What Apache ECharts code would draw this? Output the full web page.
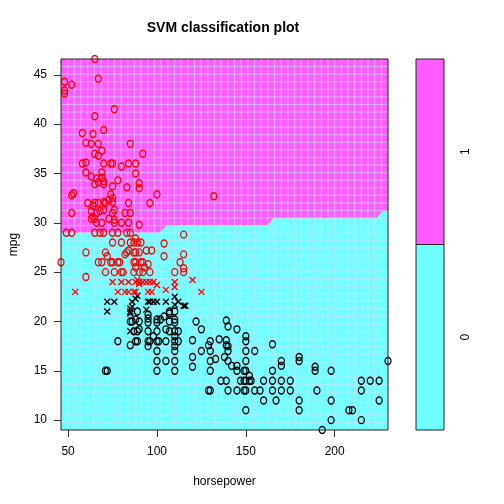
<!DOCTYPE html>
<html><head><meta charset="utf-8">
<script src="https://cdn.jsdelivr.net/npm/echarts@6/dist/echarts.min.js"></script>
<style>html,body{margin:0;padding:0;background:#fff}#c{width:504px;height:504px}</style>
</head><body><div id="c"></div><script>
// ---- data (horsepower, mpg) ----
const class1Obs = [[65,46.6],[48,44.3],[52,44.0],[67,44.6],[48,43.4],[48,43.1],[65,40.8],[76,41.5],[58,39.1],[64,39.0],[70,39.4],[60,38.1],[63,38.0],[67,38.0],[85,38.0],[69,37.3],[65,37.0],[67,36.8],[92,37.0],[58,36.0],[60,36.1],[70,36.0],[74,36.0],[75,36.0],[84,36.0],[88,36.0],[80,35.7],[88,35.0],
[60,35.1],[63,34.7],[66,34.5],[69,35.1],[69,34.6],[70,34.2],[70,33.9],[67,34.1],[65,33.9],[75,33.7],[78,34.3],[90,34.0],[100,32.9],[53,33.0],[52,32.8],[83,33.6],[90,33.5],
[74,32.9],[75,32.5],[73,32.3],[75,32.1],[70,32.1],[71,32.0],[67,32.0],[65,32.0],[64,31.7],[61,32.0],[84,32.0],[96,32.0],[132,32.7],
[52,31.0],[63,31.2],[66,31.0],[68,31.2],[70,31.3],[64,30.6],[65,30.4],[63,30.4],[76,31.3],[75,31.0],[82,31.0],[85,31.0],[73,30.4],[76,30.3],[80,30.0],[90,29.8],[66,30.0],[69,30.0],[84,30.0],[76,30.0],
[49,29.0],[52,29.0],[65,29.0],[68,29.0],[70,29.0],[75,29.0],[78,29.0],[83,29.0],[85,29.0],[115,28.8],
[75,28.0],[80,28.0],[85,28.0],[87,28.0],[89,28.0],[91,28.0],[104,27.9],[88,28.4],
[60,27.0],[71,27.0],[83,27.0],[84,27.2],[87,27.0],[88,27.0],[90,27.0],[94,27.2],[97,27.2],[115,26.8],[72,26.6],[82,26.8],[104,26.6],
[46,26.0],[67,26.0],[69,26.0],[74,26.0],[75,26.0],[78,26.0],[79,26.0],[87,26.0],[88,26.0],[91,26.0],[92,26.0],[95,25.8],[113,26.0],
[88,25.5],[93,25.5],[115,25.4],
[71,25.0],[76,25.0],[80,25.0],[81,25.0],[87,25.0],[90,25.0],[92,25.0],[96,25.0],[110,25.0],[115,25.0],[60,24.5]];

const class1SV = [[75,24.0],[80,24.0],[84,24.0],[88,24.0],[90,24.0],[92,24.0],[94,24.0],[96,24.0],[98,24.0],[100,23.7],[105,23.2],[110,24.0],[110,23.5],[120,24.2],[89,24.2],[90,23.8],[54,23.0],[78,23.0],[82,23.0],[84,23.0],[87,23.0],[88,23.0],[95,23.0],[97,23.0],[125,23.0]];

const class0SV = [[72,22.0],[76,22.0],[86,22.0],[88,22.3],[89,22.6],[95,22.0],[96,22.0],[98,22.0],[100,22.0],[105,22.0],[110,22.5],[110,21.7],[112,22.0],[115,21.6],[116,21.6],[72,21.0],[85,21.0],[85,21.3],[85,20.8],[94,21.2],[85,19.0],[86,21.5]];

const class0Obs = [[89,21.0],[85,20.0],[86,20.0],[88,20.2],[90,20.0],[95,20.3],[95,19.9],[100,19.9],[100,20.2],[102,20.2],[104,20.5],[107,20.8],[107,20.0],[105,19.2],[110,21.0],[110,20.2],[110,19.9],[95,20.7],[107,21.0],
[87,19.0],[89,19.0],[90,19.2],[95,19.0],[100,19.0],[98,18.5],
[78,18.0],[85,17.6],[88,18.0],[89,18.0],[95,18.0],[96,18.0],[100,18.0],[101,18.0],[105,18.0],[95,17.5],[100,17.0],[100,16.0],[100,15.0],[105,16.0],[71,15.0],[72,15.0],
[107,19.0],[110,19.0],[112,19.0],[110,18.5],[110,18.0],[112,18.0],[110,17.5],[110,17.0],[110,16.0],[110,15.0],[122,20.0],[125,19.2],
[120,18.1],[120,16.4],[120,15.4],[125,17.0],[130,17.0],[130,18.0],[129,17.6],[130,16.0],[130,15.0],[133,16.2],[129,13.0],[130,13.0],
[135,18.2],[139,18.1],[139,17.6],[140,17.5],[140,17.0],[138,16.4],[140,16.0],[142,15.5],[145,15.5],[145,15.0],[150,16.0],[149,15.0],[150,15.0],[152,14.5],
[139,20.1],[140,19.5],[145,19.2],[150,18.5],[150,18.0],[150,17.0],[155,17.0],[165,17.7],
[136,14.0],[139,14.0],[147,14.0],[149,14.0],[150,14.0],[152,14.0],[153,14.0],[160,14.0],[165,14.0],
[140,13.0],[145,13.0],[149,13.0],[150,13.0],[155,13.0],[158,13.0],[165,13.0],[170,13.0],
[160,12.0],[167,12.0],[150,11.0],
[170,16.0],[170,15.5],[180,16.4],[180,16.0],[189,15.4],[189,15.0],[198,15.0],[165,15.0],
[170,14.0],[175,14.0],[215,14.0],[220,14.0],[225,14.0],
[175,13.0],[190,13.0],[215,13.0],
[180,12.0],[198,12.0],[225,12.0],
[180,11.0],[208,11.0],[210,11.0],
[198,10.0],[215,10.0],[193,9.0],[230,16.0]];

// decision boundary between predicted classes (horsepower, mpg)
const boundaryHp  = [46, 101.5, 105.5, 162.5, 165.5, 223.6, 227.4, 230];
const boundaryMpg = [29.0, 29.0, 29.77, 29.77, 30.45, 30.45, 31.2, 31.2];

const hpRange = [46, 230];
const mpgRange = [9, 46.6];
const gridN = 50;                 // prediction grid resolution
const xTicks = [50, 100, 150, 200];
const yTicks = [10, 15, 20, 25, 30, 35, 40, 45];
const classLevels = ['0', '1'];

const COL0 = '#70FFFF', COL1 = '#FF5CFF';
const SEAM = 'rgba(205,222,255,0.62)';
const FONT = 'Liberation Sans, Arial, Helvetica, sans-serif';

const chart = echarts.init(document.getElementById('c'), null, {renderer: 'canvas'});

function bgRender(params, api) {
  const b = boundaryHp.map((h, i) => [h, boundaryMpg[i]]);
  const top = [[hpRange[0], mpgRange[1]], [hpRange[1], mpgRange[1]]].concat(b.slice().reverse());
  const bot = b.concat([[hpRange[1], mpgRange[0]], [hpRange[0], mpgRange[0]]]);
  const children = [
    {type: 'polygon', shape: {points: top.map(p => api.coord(p))}, style: {fill: COL1}},
    {type: 'polygon', shape: {points: bot.map(p => api.coord(p))}, style: {fill: COL0}}
  ];
  const dx = (hpRange[1] - hpRange[0]) / (gridN - 1);
  const dy = (mpgRange[1] - mpgRange[0]) / (gridN - 1);
  for (let i = 1; i < gridN - 1; i++) {
    const x = hpRange[0] + i * dx;
    const p1 = api.coord([x, mpgRange[0]]), p2 = api.coord([x, mpgRange[1]]);
    children.push({type: 'line', shape: {x1: p1[0], y1: p1[1], x2: p2[0], y2: p2[1]}, style: {stroke: SEAM, lineWidth: 1}});
    const y = mpgRange[0] + i * dy;
    const q1 = api.coord([hpRange[0], y]), q2 = api.coord([hpRange[1], y]);
    children.push({type: 'line', shape: {x1: q1[0], y1: q1[1], x2: q2[0], y2: q2[1]}, style: {stroke: SEAM, lineWidth: 1}});
  }
  return {type: 'group', children};
}

function boxRender(params, api) {
  const a = api.coord([hpRange[0], mpgRange[1]]), c = api.coord([hpRange[1], mpgRange[0]]);
  return {type: 'rect', shape: {x: a[0], y: a[1], width: c[0] - a[0], height: c[1] - a[1]}, style: {fill: 'none', stroke: '#222', lineWidth: 1}};
}

function keyRender(params, api) {
  const i = api.value(0);
  const a = api.coord([0, i + 1]), c = api.coord([1, i]);
  return {type: 'rect', shape: {x: a[0], y: a[1], width: c[0] - a[0], height: c[1] - a[1]}, style: {fill: i === 0 ? COL0 : COL1, stroke: '#222', lineWidth: 1}};
}

const xPath = 'path://M0,0L10,10M10,0L0,10';
function scatter(data, color, isSV) {
  return {
    type: 'scatter', xAxisIndex: 0, yAxisIndex: 0, data, z: 5,
    symbol: isSV ? xPath : 'circle',
    symbolSize: isSV ? [6, 6] : [6, 7],
    itemStyle: {color: isSV ? color : 'rgba(0,0,0,0)', borderColor: color, borderWidth: 1.35, opacity: 1},
    emphasis: {disabled: true}, silent: true, animation: false
  };
}

chart.setOption({
  animation: false,
  backgroundColor: '#fff',
  title: {text: 'SVM classification plot', left: 223, top: 21, textAlign: 'center', padding: 0,
    textStyle: {fontSize: 14, fontWeight: 'bold', fontFamily: FONT, color: '#000'}},
  grid: [
    {left: 59, top: 59, width: 329, height: 371, show: false},
    {left: 416, top: 59, width: 28, height: 371, show: false}
  ],
  xAxis: [
    {gridIndex: 0, type: 'value', min: hpRange[0], max: hpRange[1],
      name: 'horsepower', nameLocation: 'middle', nameGap: 46,
      nameTextStyle: {fontSize: 12, fontFamily: FONT, color: '#000'},
      axisLine: {show: false}, splitLine: {show: false},
      axisTick: {show: true, length: 7, customValues: xTicks, lineStyle: {color: '#333'}},
      axisLabel: {customValues: xTicks, margin: 16, fontSize: 12, fontFamily: FONT, color: '#000'}},
    {gridIndex: 1, type: 'value', min: 0, max: 1, show: false}
  ],
  yAxis: [
    {gridIndex: 0, type: 'value', min: mpgRange[0], max: mpgRange[1],
      name: 'mpg', nameLocation: 'middle', nameGap: 41, nameRotate: 90,
      nameTextStyle: {fontSize: 12, fontFamily: FONT, color: '#000'},
      axisLine: {show: false}, splitLine: {show: false},
      axisTick: {show: true, length: 7, customValues: yTicks, lineStyle: {color: '#333'}},
      axisLabel: {customValues: yTicks, margin: 14, fontSize: 12, fontFamily: FONT, color: '#000'}},
    {gridIndex: 1, type: 'value', min: 0, max: 2, position: 'right',
      axisLine: {show: false}, splitLine: {show: false},
      axisTick: {show: true, length: 7, customValues: [0.5, 1.5], lineStyle: {color: '#333'}},
      axisLabel: {customValues: [0.5, 1.5], rotate: 90, margin: 16, fontSize: 12, fontFamily: FONT, color: '#000',
        formatter: v => classLevels[Math.floor(v)]}}
  ],
  series: [
    {type: 'custom', xAxisIndex: 0, yAxisIndex: 0, data: [[0]], renderItem: bgRender, z: 1, silent: true, clip: true},
    scatter(class0Obs, '#000', false),
    scatter(class0SV, '#000', true),
    scatter(class1Obs, '#FF0000', false),
    scatter(class1SV, '#FF0000', true),
    {type: 'custom', xAxisIndex: 0, yAxisIndex: 0, data: [[0]], renderItem: boxRender, z: 8, silent: true, clip: false},
    {type: 'custom', xAxisIndex: 1, yAxisIndex: 1, data: classLevels.map((c, i) => [i]), renderItem: keyRender, z: 2, silent: true}
  ]
});
</script></body></html>
